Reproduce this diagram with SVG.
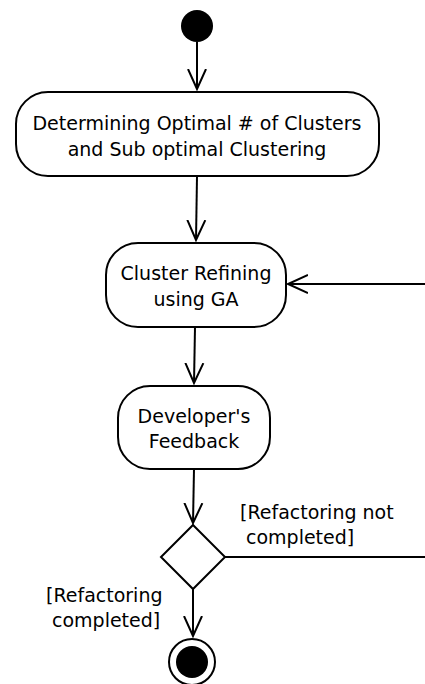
<svg xmlns="http://www.w3.org/2000/svg" width="425" height="684" viewBox="0 0 425 684">
<defs>
<marker id="open" markerWidth="24" markerHeight="24" viewBox="-20 -12 24 24" refX="0" refY="0" orient="auto" markerUnits="userSpaceOnUse">
<path d="M-20,-9 L0,0 L-20,9" fill="none" stroke="#000" stroke-width="2"/>
</marker>
</defs>
<style>
.n{fill:#fff;stroke:#000;stroke-width:2}
.t{font-family:"DejaVu Sans",sans-serif;font-size:19px;fill:#000;text-anchor:middle}
.l{font-family:"DejaVu Sans",sans-serif;font-size:19px;fill:#000}
.c{fill:none;stroke:#000;stroke-width:2}
</style>
<g id="start"><circle cx="197" cy="26" r="16" fill="#000"/></g>
<g id="determine"><rect class="n" x="16" y="92" width="363" height="84" rx="32"/>
<text class="t" x="197" y="130">Determining Optimal # of Clusters</text>
<text class="t" x="197" y="156">and Sub optimal Clustering</text></g>
<g id="refine"><rect class="n" x="106" y="243" width="180" height="84" rx="32"/>
<text class="t" x="196" y="280">Cluster Refining</text>
<text class="t" x="196" y="306">using GA</text></g>
<g id="feedback"><rect class="n" x="118" y="386" width="152" height="83" rx="32"/>
<text class="t" x="194" y="423">Developer's</text>
<text class="t" x="194" y="448">Feedback</text></g>
<g id="decision"><polygon class="n" points="193,525 225,557 193,589 161,557"/></g>
<g id="end"><circle cx="192" cy="662" r="23" fill="#fff" stroke="#000" stroke-width="2"/><circle cx="192" cy="662" r="16" fill="#000"/></g>
<g id="connectors">
<line class="c" x1="197" y1="42" x2="197" y2="89" marker-end="url(#open)"/>
<line class="c" x1="197" y1="176" x2="196" y2="240" marker-end="url(#open)"/>
<line class="c" x1="195" y1="327" x2="194" y2="383" marker-end="url(#open)"/>
<line class="c" x1="194" y1="469" x2="193" y2="523" marker-end="url(#open)"/>
<line class="c" x1="193" y1="589" x2="193" y2="636" marker-end="url(#open)"/>
<line class="c" x1="225" y1="557" x2="425" y2="557"/>
<line class="c" x1="425" y1="284" x2="288" y2="284" marker-end="url(#open)"/>
<text class="l" x="240" y="519">[Refactoring not</text>
<text class="l" x="246" y="544">completed]</text>
<text class="l" x="46" y="602">[Refactoring</text>
<text class="l" x="52" y="627">completed]</text>
</g>
</svg>
